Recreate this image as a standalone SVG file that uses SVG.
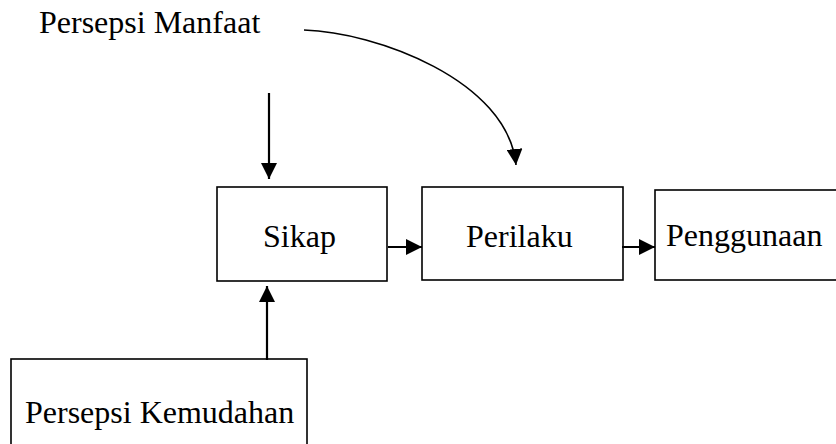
<svg xmlns="http://www.w3.org/2000/svg" width="836" height="444" viewBox="0 0 836 444">
<style>
  .box { fill: #ffffff; stroke: #000000; stroke-width: 1.6; }
  .lbl { font-family: "Liberation Serif", "Times New Roman", serif; font-size: 32px; fill: #000000; }
  .edge { fill: none; stroke: #000000; stroke-width: 2.2; }
  .curve { fill: none; stroke: #000000; stroke-width: 1.6; }
</style>
<defs>
  <marker id="ah" viewBox="0 0 16 16" refX="16" refY="8" markerWidth="16" markerHeight="16" markerUnits="userSpaceOnUse" orient="auto">
    <path d="M0,0 L16,8 L0,16 z" fill="#000000"/>
  </marker>
</defs>
<rect width="836" height="444" fill="#ffffff"/>

<g id="persepsi-manfaat">
  <text class="lbl" x="39" y="33">Persepsi Manfaat</text>
</g>
<g id="sikap">
  <rect class="box" x="217" y="187" width="170" height="94"/>
  <text class="lbl" x="263" y="247">Sikap</text>
</g>
<g id="perilaku">
  <rect class="box" x="422" y="187" width="201" height="93"/>
  <text class="lbl" x="466" y="247">Perilaku</text>
</g>
<g id="penggunaan">
  <rect class="box" x="655" y="190" width="200" height="90"/>
  <text class="lbl" x="666" y="246">Penggunaan</text>
</g>
<g id="persepsi-kemudahan">
  <rect class="box" x="11" y="359" width="296" height="100"/>
  <text class="lbl" x="25" y="423">Persepsi Kemudahan</text>
</g>

<g id="connectors">
  <path class="curve" d="M304,30 C375,32 508,80 516,165" marker-end="url(#ah)"/>
  <line class="edge" x1="269" y1="93" x2="269" y2="179" marker-end="url(#ah)"/>
  <line class="edge" x1="267" y1="360" x2="267" y2="286" marker-end="url(#ah)"/>
  <line class="edge" x1="388" y1="247" x2="422" y2="247" marker-end="url(#ah)"/>
  <line class="edge" x1="622" y1="247" x2="655" y2="247" marker-end="url(#ah)"/>
</g>
</svg>
